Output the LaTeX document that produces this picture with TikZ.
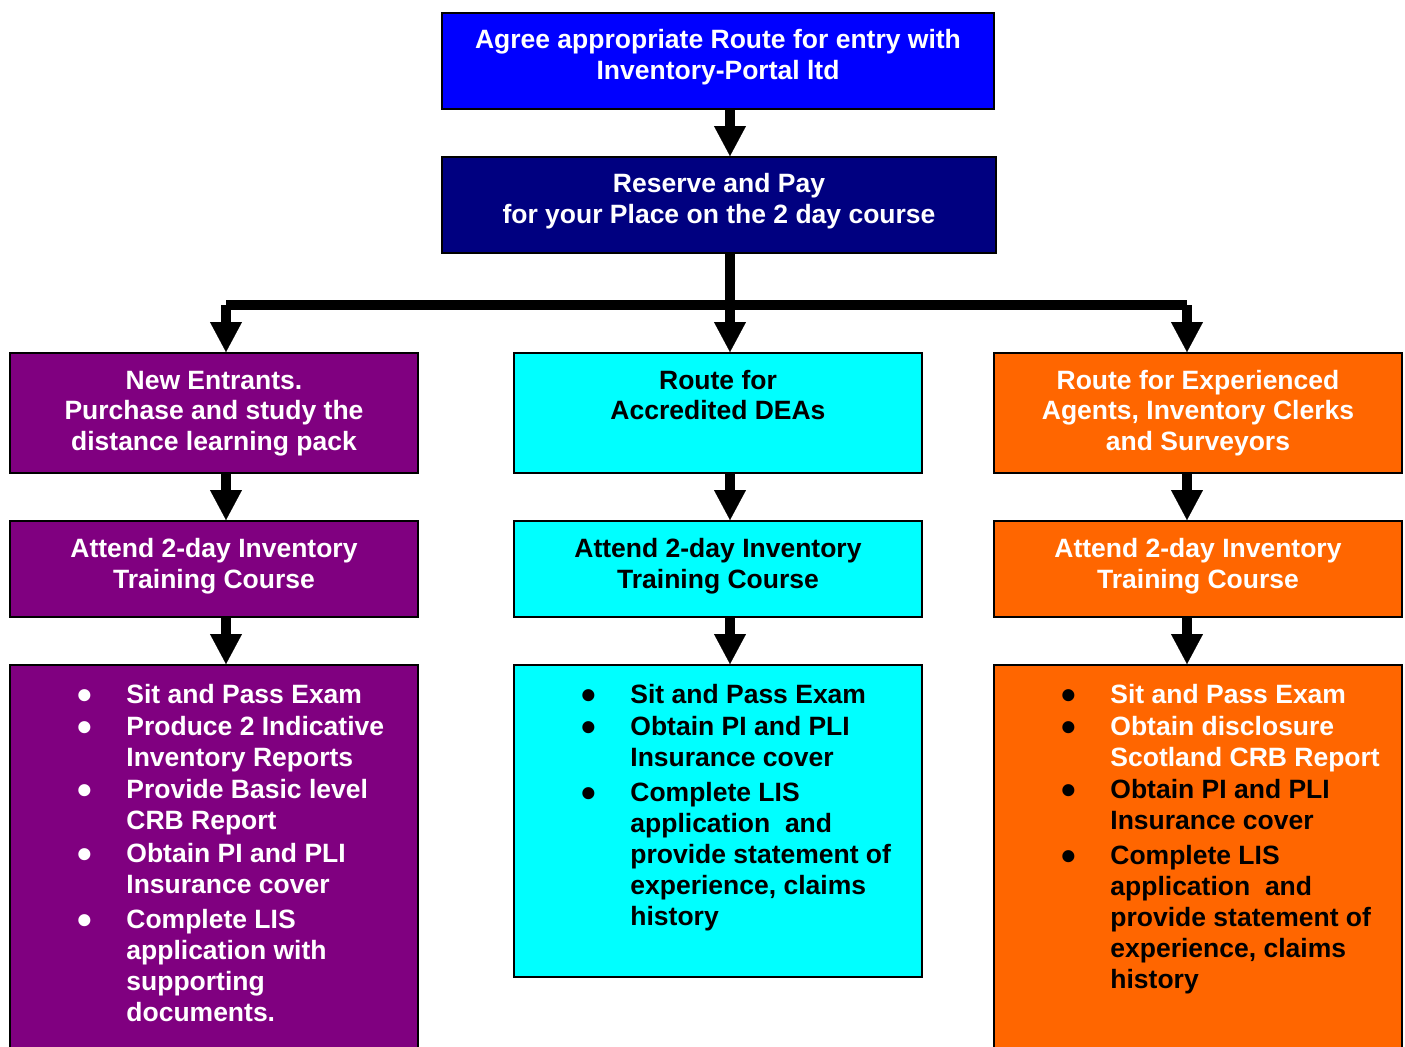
\documentclass[tikz,border=0pt]{standalone}
\usepackage{fontspec}
\setmainfont{Liberation Sans}
\usetikzlibrary{arrows.meta,fit}
\definecolor{cblue}{HTML}{0000FF}
\definecolor{cnavy}{HTML}{000080}
\definecolor{cpurple}{HTML}{800080}
\definecolor{ccyan}{HTML}{00FFFF}
\definecolor{corange}{HTML}{FF6600}
\newcommand{\whtxt}{\color{white}}
\newcommand{\bul}{\hspace*{-1.2pt}\smash{\raisebox{-3pt}{\fontsize{21}{21}\selectfont\textbullet}}}
\begin{document}
\begin{tikzpicture}[x=0.5pt,y=-0.5pt,
  box/.style={draw=black,line width=1pt,inner sep=0pt,rectangle},
  hdr/.style={anchor=base,inner sep=0pt,font=\fontsize{13.25}{15.5}\selectfont\bfseries},
  lst/.style={anchor=base west,inner sep=0pt,font=\fontsize{13.25}{15.5}\selectfont\bfseries},
  conn/.style={line width=5pt,-{Triangle[width=16pt,length=15pt,line width=0.1pt]}},
  barline/.style={line width=4.6pt}]
\useasboundingbox (0,0) rectangle (1405,1046);
\clip (0,0) rectangle (1405,1046);
% boxes
\node[box,fill=cblue,fit={(442,13) (994,109)}] (t1) {};
\node[box,fill=cnavy,fit={(442,157) (996,253)}] (t2) {};
\node[box,fill=cpurple,fit={(10,353) (418,473)}] (l1) {};
\node[box,fill=ccyan,fit={(514,353) (922,473)}] (m1) {};
\node[box,fill=corange,fit={(994,353) (1402,473)}] (r1) {};
\node[box,fill=cpurple,fit={(10,521) (418,617)}] (l2) {};
\node[box,fill=ccyan,fit={(514,521) (922,617)}] (m2) {};
\node[box,fill=corange,fit={(994,521) (1402,617)}] (r2) {};
\node[box,fill=cpurple,fit={(10,665) (418,1070)}] (l3) {};
\node[box,fill=ccyan,fit={(514,665) (922,977)}] (m3) {};
\node[box,fill=corange,fit={(994,665) (1402,1070)}] (r3) {};
% texts
\node[hdr,text=white] (t1t) at (718,48.5) {\begin{tabular}[t]{@{}c@{}}Agree appropriate Route for entry with\\Inventory-Portal ltd\end{tabular}};
\node[hdr,text=white] (t2t) at (719,192.5) {\begin{tabular}[t]{@{}c@{}}Reserve and Pay\\for your Place on the 2 day course\end{tabular}};
\node[hdr,text=white,font=\fontsize{13.25}{15.25}\selectfont\bfseries] (l1t) at (214,389) {\begin{tabular}[t]{@{}c@{}}New Entrants.\\Purchase and study the\\distance learning pack\end{tabular}};
\node[hdr,text=black,font=\fontsize{13.25}{15.25}\selectfont\bfseries] (m1t) at (718,389) {\begin{tabular}[t]{@{}c@{}}Route for\\Accredited DEAs\end{tabular}};
\node[hdr,text=white,font=\fontsize{13.25}{15.25}\selectfont\bfseries] (r1t) at (1198,389) {\begin{tabular}[t]{@{}c@{}}Route for Experienced\\Agents, Inventory Clerks\\and Surveyors\end{tabular}};
\node[hdr,text=white] (l2t) at (214,557) {\begin{tabular}[t]{@{}c@{}}Attend 2-day Inventory\\Training Course\end{tabular}};
\node[hdr,text=black] (m2t) at (718,557) {\begin{tabular}[t]{@{}c@{}}Attend 2-day Inventory\\Training Course\end{tabular}};
\node[hdr,text=white] (r2t) at (1198,557) {\begin{tabular}[t]{@{}c@{}}Attend 2-day Inventory\\Training Course\end{tabular}};
% lists
\node[lst,text=white] (l3t) at (79.5,703) {\begin{tabular}[t]{@{}p{23.25pt}@{}l@{}}
\bul & Sit and Pass Exam\\[0.5pt]
\bul & Produce 2 Indicative\\ & Inventory Reports\\[0.5pt]
\bul & Provide Basic level\\ & CRB Report\\[1pt]
\bul & Obtain PI and PLI\\ & Insurance cover\\[2pt]
\bul & Complete LIS\\ & application with\\ & supporting\\ & documents.
\end{tabular}};
\node[lst,text=black] (m3t) at (583.5,703) {\begin{tabular}[t]{@{}p{23.25pt}@{}l@{}}
\bul & Sit and Pass Exam\\[0.5pt]
\bul & Obtain PI and PLI\\ & Insurance cover\\[2pt]
\bul & Complete LIS\\ & application\ \ and\\ & provide statement of\\ & experience, claims\\ & history
\end{tabular}};
\node[lst,text=black] (r3t) at (1063.5,703) {\begin{tabular}[t]{@{}p{23.25pt}@{}l@{}}
\bul & \whtxt Sit and Pass Exam\\[0.5pt]
\bul & \whtxt Obtain disclosure\\ & \whtxt Scotland CRB Report\\[0.5pt]
\bul & Obtain PI and PLI\\ & Insurance cover\\[2pt]
\bul & Complete LIS\\ & application\ \ and\\ & provide statement of\\ & experience, claims\\ & history
\end{tabular}};
% connectors
\coordinate (ax) at (730,0);
\coordinate (lx) at (226,0);
\coordinate (rx) at (1187,0);
\coordinate (barL) at (226,305);
\coordinate (barR) at (1187,305);
\draw[conn] (t1.south -| ax) -- (t2.north -| ax);
\draw[conn] (t2.south -| ax) -- (m1.north -| ax);
\draw[barline] (barL) -- (barR);
\draw[conn] (barL) -- (l1.north -| barL);
\draw[conn] (barR) -- (r1.north -| barR);
\draw[conn] (l1.south -| lx) -- (l2.north -| lx);
\draw[conn] (m1.south -| ax) -- (m2.north -| ax);
\draw[conn] (r1.south -| rx) -- (r2.north -| rx);
\draw[conn] (l2.south -| lx) -- (l3.north -| lx);
\draw[conn] (m2.south -| ax) -- (m3.north -| ax);
\draw[conn] (r2.south -| rx) -- (r3.north -| rx);
\end{tikzpicture}
\end{document}
